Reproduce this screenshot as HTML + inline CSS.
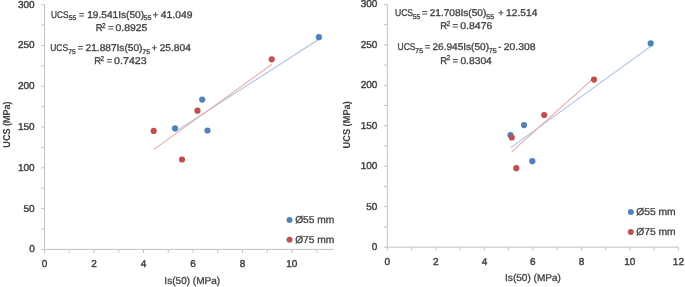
<!DOCTYPE html><html><head><meta charset="utf-8"><style>html,body{margin:0;padding:0;background:#fff;overflow:hidden}svg{display:block;filter:blur(0.45px)}text{font-family:"Liberation Sans",sans-serif;font-kerning:none;text-rendering:geometricPrecision;stroke:#404040;stroke-width:0.3px}.t{stroke-width:0.42px}</style></head><body>
<svg width="685" height="287" viewBox="0 0 685 287">
<rect width="685" height="287" fill="#fff"/>
<g><path d="M44.50 4.70V249.40H334.00" fill="none" stroke="#C0C0C0" stroke-width="1"/><path d="M41.10 249.40H44.50M41.10 229.01H44.50M41.10 208.62H44.50M41.10 188.22H44.50M41.10 167.83H44.50M41.10 147.44H44.50M41.10 127.05H44.50M41.10 106.66H44.50M41.10 86.27H44.50M41.10 65.87H44.50M41.10 45.48H44.50M41.10 25.09H44.50M41.10 4.70H44.50M44.50 249.40V252.80M69.25 249.40V252.80M94.00 249.40V252.80M118.75 249.40V252.80M143.50 249.40V252.80M168.25 249.40V252.80M193.00 249.40V252.80M217.75 249.40V252.80M242.50 249.40V252.80M267.25 249.40V252.80M292.00 249.40V252.80M316.75 249.40V252.80" stroke="#C0C0C0" stroke-width="1"/><text x="29.13" y="252.40" font-size="10.0" fill="#404040" class="t">0</text><text x="23.57" y="211.62" font-size="10.0" fill="#404040" class="t">50</text><text x="18.01" y="170.83" font-size="10.0" fill="#404040" class="t">100</text><text x="18.01" y="130.05" font-size="10.0" fill="#404040" class="t">150</text><text x="18.01" y="89.27" font-size="10.0" fill="#404040" class="t">200</text><text x="18.01" y="48.48" font-size="10.0" fill="#404040" class="t">250</text><text x="18.01" y="7.70" font-size="10.0" fill="#404040" class="t">300</text><text x="41.72" y="266.80" font-size="10.0" fill="#404040" class="t">0</text><text x="91.22" y="266.80" font-size="10.0" fill="#404040" class="t">2</text><text x="140.75" y="266.80" font-size="10.0" fill="#404040" class="t">4</text><text x="190.19" y="266.80" font-size="10.0" fill="#404040" class="t">6</text><text x="239.72" y="266.80" font-size="10.0" fill="#404040" class="t">8</text><text x="286.25" y="266.80" font-size="10.0" fill="#404040" class="t">10</text><text transform="translate(9.9,147.1) rotate(-90) translate(-0.54,0) scale(0.9037,1)" font-size="10.0" font-weight="bold" fill="#404040" style="stroke-width:0.05px">UCS (MPa)</text><text transform="translate(164.37,284) scale(1.0052,1)" font-size="10.0" fill="#404040">Is(50) (MPa)</text><line x1="175.00" y1="131.88" x2="318.90" y2="39.20" stroke="#A6C1E4" stroke-width="1.1"/><line x1="153.70" y1="149.59" x2="271.70" y2="64.47" stroke="#E6A8A7" stroke-width="1.1"/><circle cx="175.0" cy="128.3" r="3.1" fill="#4F81BD"/><circle cx="202.2" cy="99.6" r="3.1" fill="#4F81BD"/><circle cx="207.5" cy="130.5" r="3.1" fill="#4F81BD"/><circle cx="318.9" cy="37.2" r="3.1" fill="#4F81BD"/><circle cx="153.7" cy="130.9" r="3.1" fill="#C0504D"/><circle cx="182.0" cy="159.5" r="3.1" fill="#C0504D"/><circle cx="197.5" cy="110.7" r="3.1" fill="#C0504D"/><circle cx="271.7" cy="59.3" r="3.1" fill="#C0504D"/><circle cx="289.5" cy="220.0" r="3.0" fill="#4F81BD"/><circle cx="289.5" cy="239.8" r="3.0" fill="#C0504D"/><text transform="translate(295.15,223) scale(1.0232,1)" font-size="10.0" fill="#404040">Ø55 mm</text><text transform="translate(295.15,243) scale(1.0232,1)" font-size="10.0" fill="#404040">Ø75 mm</text><text transform="translate(50.96,18) scale(0.8468,1)" font-size="9.8" fill="#404040">UCS</text><text transform="translate(68.63,20) scale(0.9992,1)" font-size="6.8" fill="#404040">55</text><text transform="translate(79.07,18) scale(0.9031,1)" font-size="9.8" fill="#404040">=</text><text transform="translate(87.23,18) scale(1.0322,1)" font-size="9.8" fill="#404040">19.541Is(50)</text><text transform="translate(143.62,20) scale(1.0420,1)" font-size="6.8" fill="#404040">55</text><text transform="translate(152.40,18) scale(1.0501,1)" font-size="9.8" fill="#404040">+</text><text transform="translate(160.86,18) scale(1.0551,1)" font-size="9.8" fill="#404040">41.049</text><text transform="translate(95.63,31) scale(0.9624,1)" font-size="9.8" fill="#404040">R</text><text transform="translate(101.98,28) scale(0.8841,1)" font-size="7.2" fill="#404040">2</text><text transform="translate(108.16,31) scale(0.9241,1)" font-size="9.8" fill="#404040">=</text><text transform="translate(115.49,31) scale(1.0658,1)" font-size="9.8" fill="#404040">0.8925</text><text transform="translate(50.14,51) scale(0.8673,1)" font-size="9.8" fill="#404040">UCS</text><text transform="translate(68.26,54) scale(0.9669,1)" font-size="6.8" fill="#404040">75</text><text transform="translate(77.76,51) scale(0.9241,1)" font-size="9.8" fill="#404040">=</text><text transform="translate(85.59,51) scale(1.0329,1)" font-size="9.8" fill="#404040">21.887Is(50)</text><text transform="translate(142.35,54) scale(1.0102,1)" font-size="6.8" fill="#404040">75</text><text transform="translate(151.53,51) scale(0.9871,1)" font-size="9.8" fill="#404040">+</text><text transform="translate(159.69,51) scale(1.0379,1)" font-size="9.8" fill="#404040">25.804</text><text transform="translate(94.23,64) scale(0.9624,1)" font-size="9.8" fill="#404040">R</text><text transform="translate(100.58,61) scale(0.8841,1)" font-size="7.2" fill="#404040">2</text><text transform="translate(106.76,64) scale(0.9241,1)" font-size="9.8" fill="#404040">=</text><text transform="translate(114.08,64) scale(1.0871,1)" font-size="9.8" fill="#404040">0.7423</text></g>
<g><path d="M387.30 4.40V247.10H678.50" fill="none" stroke="#C0C0C0" stroke-width="1"/><path d="M383.90 247.10H387.30M383.90 226.88H387.30M383.90 206.65H387.30M383.90 186.43H387.30M383.90 166.20H387.30M383.90 145.98H387.30M383.90 125.75H387.30M383.90 105.53H387.30M383.90 85.30H387.30M383.90 65.08H387.30M383.90 44.85H387.30M383.90 24.62H387.30M383.90 4.40H387.30M387.30 247.10V250.50M411.57 247.10V250.50M435.84 247.10V250.50M460.11 247.10V250.50M484.38 247.10V250.50M508.65 247.10V250.50M532.92 247.10V250.50M557.19 247.10V250.50M581.46 247.10V250.50M605.73 247.10V250.50M630.00 247.10V250.50M654.27 247.10V250.50M678.54 247.10V250.50" stroke="#C0C0C0" stroke-width="1"/><text x="371.83" y="250.10" font-size="10.0" fill="#404040" class="t">0</text><text x="366.27" y="209.65" font-size="10.0" fill="#404040" class="t">50</text><text x="360.71" y="169.20" font-size="10.0" fill="#404040" class="t">100</text><text x="360.71" y="128.75" font-size="10.0" fill="#404040" class="t">150</text><text x="360.71" y="88.30" font-size="10.0" fill="#404040" class="t">200</text><text x="360.71" y="47.85" font-size="10.0" fill="#404040" class="t">250</text><text x="360.71" y="7.40" font-size="10.0" fill="#404040" class="t">300</text><text x="384.52" y="264.50" font-size="10.0" fill="#404040" class="t">0</text><text x="433.06" y="264.50" font-size="10.0" fill="#404040" class="t">2</text><text x="481.63" y="264.50" font-size="10.0" fill="#404040" class="t">4</text><text x="530.11" y="264.50" font-size="10.0" fill="#404040" class="t">6</text><text x="578.68" y="264.50" font-size="10.0" fill="#404040" class="t">8</text><text x="624.25" y="264.50" font-size="10.0" fill="#404040" class="t">10</text><text x="672.85" y="264.50" font-size="10.0" fill="#404040" class="t">12</text><text transform="translate(349.9,147.9) rotate(-90) translate(-0.55,0) scale(0.9237,1)" font-size="10.0" font-weight="bold" fill="#404040" style="stroke-width:0.05px">UCS (MPa)</text><text transform="translate(505.07,281) scale(1.0052,1)" font-size="10.0" fill="#404040">Is(50) (MPa)</text><line x1="510.50" y1="147.83" x2="650.70" y2="46.38" stroke="#A6C1E4" stroke-width="1.1"/><line x1="511.80" y1="151.71" x2="594.00" y2="77.88" stroke="#E6A8A7" stroke-width="1.1"/><circle cx="510.5" cy="135.1" r="3.1" fill="#4F81BD"/><circle cx="524.0" cy="125.1" r="3.1" fill="#4F81BD"/><circle cx="532.3" cy="161.2" r="3.1" fill="#4F81BD"/><circle cx="650.7" cy="43.4" r="3.1" fill="#4F81BD"/><circle cx="511.8" cy="137.5" r="3.1" fill="#C0504D"/><circle cx="516.3" cy="168.2" r="3.1" fill="#C0504D"/><circle cx="544.2" cy="115.0" r="3.1" fill="#C0504D"/><circle cx="594.0" cy="79.6" r="3.1" fill="#C0504D"/><circle cx="630.8" cy="211.9" r="3.0" fill="#4F81BD"/><circle cx="630.8" cy="231.9" r="3.0" fill="#C0504D"/><text transform="translate(636.24,215) scale(1.0259,1)" font-size="10.0" fill="#404040">Ø55 mm</text><text transform="translate(636.24,235) scale(1.0259,1)" font-size="10.0" fill="#404040">Ø75 mm</text><text transform="translate(394.94,16) scale(0.8776,1)" font-size="9.8" fill="#404040">UCS</text><text transform="translate(412.73,19) scale(0.9992,1)" font-size="6.8" fill="#404040">55</text><text transform="translate(421.94,16) scale(0.9661,1)" font-size="9.8" fill="#404040">=</text><text transform="translate(429.69,16) scale(1.0292,1)" font-size="9.8" fill="#404040">21.708Is(50)</text><text transform="translate(486.32,19) scale(1.0420,1)" font-size="6.8" fill="#404040">55</text><text transform="translate(498.15,16) scale(0.9451,1)" font-size="9.8" fill="#404040">+</text><text transform="translate(506.12,16) scale(1.0435,1)" font-size="9.8" fill="#404040">12.514</text><text transform="translate(440.13,29) scale(0.9624,1)" font-size="9.8" fill="#404040">R</text><text transform="translate(446.46,26) scale(0.9451,1)" font-size="7.2" fill="#404040">2</text><text transform="translate(452.44,29) scale(0.9661,1)" font-size="9.8" fill="#404040">=</text><text transform="translate(460.29,29) scale(1.0665,1)" font-size="9.8" fill="#404040">0.8476</text><text transform="translate(397.54,50) scale(0.8673,1)" font-size="9.8" fill="#404040">UCS</text><text transform="translate(415.35,53) scale(1.0102,1)" font-size="6.8" fill="#404040">75</text><text transform="translate(424.64,50) scale(0.9661,1)" font-size="9.8" fill="#404040">=</text><text transform="translate(432.49,50) scale(1.0274,1)" font-size="9.8" fill="#404040">26.945Is(50)</text><text transform="translate(488.83,53) scale(1.0535,1)" font-size="6.8" fill="#404040">75</text><text transform="translate(498.20,50) scale(0.9195,1)" font-size="9.8" fill="#404040">-</text><text transform="translate(503.78,50) scale(1.0635,1)" font-size="9.8" fill="#404040">20.308</text><text transform="translate(440.23,64) scale(0.9624,1)" font-size="9.8" fill="#404040">R</text><text transform="translate(446.56,60) scale(0.9451,1)" font-size="7.2" fill="#404040">2</text><text transform="translate(452.54,64) scale(0.9661,1)" font-size="9.8" fill="#404040">=</text><text transform="translate(460.40,64) scale(1.0476,1)" font-size="9.8" fill="#404040">0.8304</text></g>
</svg></body></html>
